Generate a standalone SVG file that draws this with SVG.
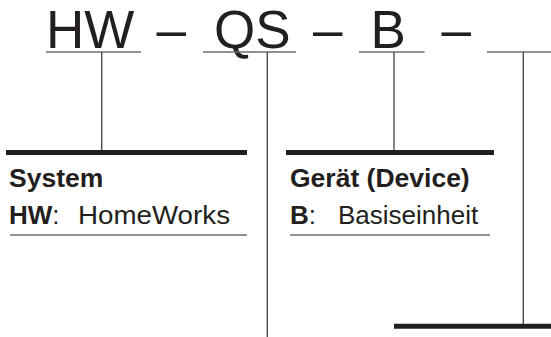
<svg xmlns="http://www.w3.org/2000/svg" width="551" height="337" viewBox="0 0 551 337">
<style>
text{font-family:"Liberation Sans",Arial,Helvetica,sans-serif;fill:#231f20}
.code{font-size:53px}
.head{font-size:26.5px;font-weight:bold}
.item{font-size:26px}
.b{font-weight:bold}
.thin{stroke:#6d6e71;stroke-width:1.4;fill:none}
.conn{stroke:#4d4d4f;stroke-width:1.4;fill:none}
.bar{stroke:#231f20;stroke-width:5;fill:none}
</style>
<rect width="551" height="337" fill="#fff"/>
<g id="code">
<text class="code" x="46" y="48.2">HW</text>
<text class="code" x="156.5" y="48.2">–</text>
<text class="code" x="214" y="48.2">QS</text>
<text class="code" x="313" y="48.2">–</text>
<text class="code" x="370.5" y="48.2">B</text>
<text class="code" x="441.5" y="48.2">–</text>
<line class="thin" x1="46" y1="52" x2="141" y2="52"/>
<line class="thin" x1="203" y1="52" x2="296" y2="52"/>
<line class="thin" x1="359" y1="52" x2="424.5" y2="52"/>
<line class="thin" x1="487" y1="52" x2="551" y2="52"/>
</g>
<g id="system">
<line class="bar" x1="6" y1="152.5" x2="247" y2="152.5"/>
<text class="head" x="9" y="187">System</text>
<text class="item" x="9" y="223.5"><tspan class="b">HW</tspan>:</text>
<text class="item" x="78" y="223.5" textLength="152" lengthAdjust="spacingAndGlyphs">HomeWorks</text>
<line class="thin" x1="10" y1="235" x2="247" y2="235"/>
</g>
<g id="device">
<line class="bar" x1="286" y1="152.5" x2="494" y2="152.5"/>
<text class="head" x="290" y="187">Gerät (Device)</text>
<text class="item" x="290" y="223.5"><tspan class="b">B</tspan>:</text>
<text class="item" x="338" y="223.5">Basiseinheit</text>
<line class="thin" x1="290" y1="235" x2="490" y2="235"/>
</g>
<g id="option">
<line class="bar" x1="394" y1="326.3" x2="551" y2="326.3"/>
</g>
<g id="connectors">
<line class="conn" x1="101.7" y1="52" x2="101.7" y2="150"/>
<line class="conn" x1="267.3" y1="52" x2="267.3" y2="337"/>
<line class="conn" x1="394" y1="52" x2="394" y2="150"/>
<line class="conn" x1="523.3" y1="52" x2="523.3" y2="324"/>
</g>
</svg>
